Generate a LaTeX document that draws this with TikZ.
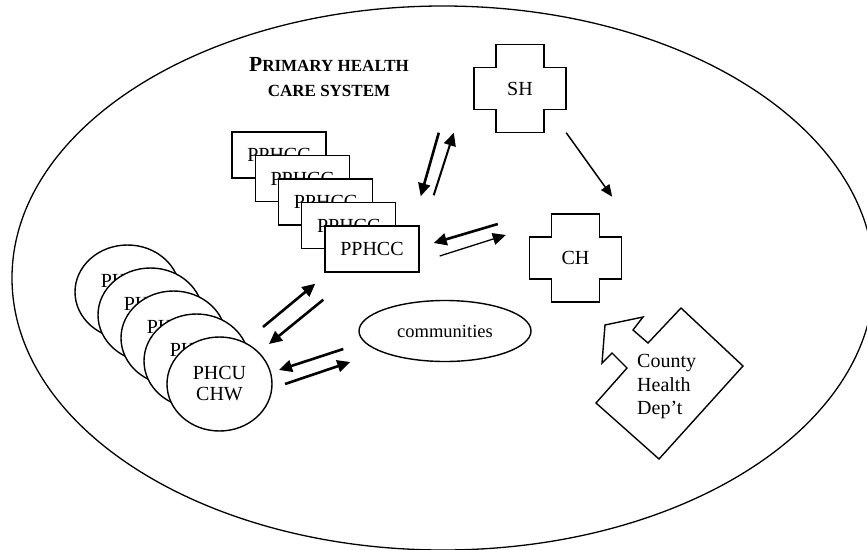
\documentclass[tikz,border=0pt]{standalone}
\usepackage{fontspec}
\setmainfont{Liberation Serif}
\usetikzlibrary{arrows.meta,shapes.geometric}
\begin{document}
\begin{tikzpicture}
		[x=1pt,y=-1pt,
		outline/.style={line width=1.4pt},
		pphcc/.style={draw,outline,fill=white,minimum width=94pt,minimum height=46pt,inner sep=0pt,font=\fontsize{20}{22}\selectfont},
		phcu/.style={ellipse,draw,outline,fill=white,minimum width=105pt,minimum height=94pt,inner sep=0pt,align=center,font=\fontsize{20}{21}\selectfont},
		hosp/.style={minimum width=92pt,minimum height=88pt,inner sep=0pt,font=\fontsize{20}{22}\selectfont},
		fat/.style={line width=2.6pt,-{Triangle[length=13pt,width=12pt]}},
		slim/.style={line width=1.5pt,-{Triangle[length=12pt,width=10pt]}}]
		\useasboundingbox (0,0) rectangle (867,549);
		\draw[line width=1.3pt] (443,278) ellipse [x radius=431,y radius=272];
		\node[align=center,font=\bfseries\fontsize{17}{25}\selectfont] (title) at (329,77)
			{{\fontsize{21.5}{25}\selectfont P}RIMARY HEALTH\\CARE SYSTEM};
		\node[hosp] (sh) at (520,88.5) {SH};
		\node[hosp] (ch) at (575.5,258) {CH};
		\foreach \h in {sh,ch}
			\draw[outline] ([xshift=-24pt]\h.north) -- ++(48,0) -- ++(0,23) -- ++(22,0) -- ++(0,42) -- ++(-22,0)
				-- ++(0,23) -- ++(-48,0) -- ++(0,-23) -- ++(-22,0) -- ++(0,-42) -- ++(22,0) -- cycle;
		\foreach \i in {1,...,5}
			\node[pphcc] (pp\i) at ({279+23.25*(\i-1)},{155+23.5*(\i-1)}) {PPHCC};
		\foreach \i in {1,...,5}
			\node[phcu] (ph\i) at ({127.5+23*(\i-1)},{292+23*(\i-1)}) {PHCU\\CHW};
		\node[ellipse,draw,outline,minimum width=172pt,minimum height=61pt,inner sep=0pt,font=\fontsize{18.5}{20}\selectfont] (comm) at (445,331) {communities};
		\draw[outline] (681,308) -- (743,366) -- (659,459) -- (596,403) -- (627,368) -- (612,353) -- (602,363)
			-- (605,325) -- (643,317) -- (633,330) -- (648,343) -- cycle;
		\node[align=left,anchor=west,inner sep=0pt,font=\fontsize{20}{23.5}\selectfont] (cty) at (637,387) {County\\Health\\Dep't};
		\draw[fat] ([xshift=-35pt]sh.south west) -- ([shift={(1,-29)}]pp5.north east);
		\draw[fat,line width=2pt] ([shift={(14,-30)}]pp5.north east) -- ([xshift=-20pt]sh.south west);
		\draw[slim] (sh.south east) -- ([shift={(-9.5,-17)}]ch.north east);
		\draw[fat] ([shift={(-31.5,-34)}]ch.west) -- ([shift={(14,-6)}]pp5.east);
		\draw[line width=1.3pt,-{Triangle[length=13pt,width=12pt]}] ([shift={(20,7)}]pp5.east) -- ([shift={(-23.5,-23)}]ch.west);
		\draw[fat] ([shift={(43.5,-57)}]ph5.center) -- ([shift={(-9,11)}]pp5.south west);
		\draw[fat] ([shift={(-1,27)}]pp5.south west) -- ([shift={(49.5,-40)}]ph5.center);
		\draw[fat] ([shift={(-15,18)}]comm.west) -- ([shift={(59.5,-14)}]ph5.center);
		\draw[fat] ([shift={(65.5,0)}]ph5.center) -- ([shift={(-8,31)}]comm.west);
	\end{tikzpicture}
\end{document}
